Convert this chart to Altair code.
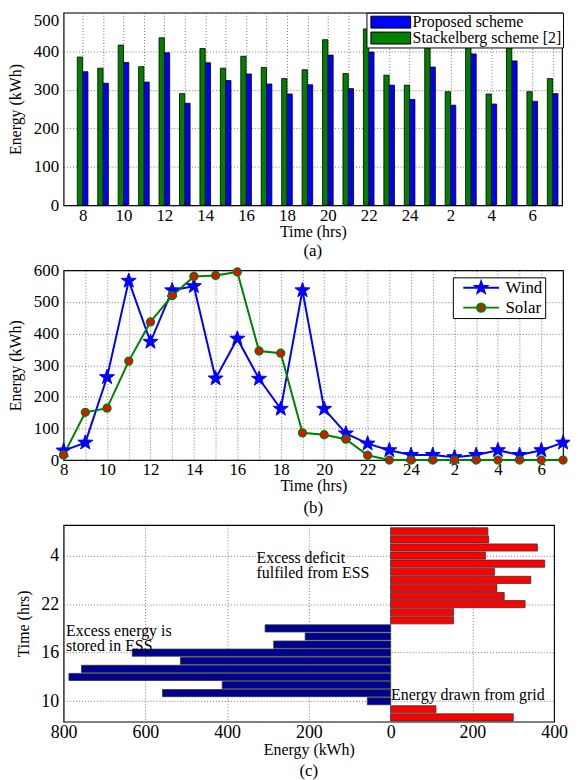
import math
import altair as alt
import pandas as pd

# ---------------- data ----------------
hours = [8, 9, 10, 11, 12, 13, 14, 15, 16, 17, 18, 19, 20, 21, 22, 23, 24, 1, 2, 3, 4, 5, 6, 7]
proposed = [347, 317, 371, 320, 396, 265, 370, 324, 341, 315, 289, 313,
            390, 303, 398, 312, 275, 359, 260, 393, 263, 375, 270, 290]
stackelberg = [385, 356, 416, 360, 435, 290, 407, 356, 387, 358, 329, 352,
               430, 342, 458, 338, 312, 408, 295, 432, 289, 409, 295, 329]
wind = [30, 55, 262, 567, 374, 537, 550, 258, 384, 257, 162, 537,
        162, 84, 52, 31, 16, 16, 9, 16, 31, 16, 31, 55]
solar = [16, 151, 164, 313, 437, 520, 581, 584, 595, 345, 338, 86,
         80, 66, 15, 0, 0, 0, 0, 0, 0, 0, 0, 0]
ess_energy = [300, 111, -57, -558, -412, -787, -756, -514, -632, -286, -209, -307,
              154, 154, 329, 278, 260, 343, 254, 377, 232, 359, 240, 238]

series_a_keys = ["proposed", "stackelberg"]
series_a_labels = ["Proposed scheme", "Stackelberg scheme [2]"]
series_b = ["Wind", "Solar"]

ann_text = ["Excess deficit\nfulfiled from ESS", "Excess energy is\nstored in ESS", "Energy drawn from grid"]
ann_x = [-328, -794, 1]
ann_y = [20.7, 11.7, 3.7]

y_ticks_a = [0, 100, 200, 300, 400, 500]
y_ticks_b = [0, 100, 200, 300, 400, 500, 600]
x_ticks_c = [-800, -600, -400, -200, 0, 200, 400]
y_ticks_c = [2, 5, 8, 11, 14, 17, 20, 23]

FONT = "Liberation Serif"
idx = list(range(len(hours)))
HOUR = "(((datum.value + 7) % 24) + 1)"
NBSP6 = "\u00a0" * 6


def star_path(r_in=0.4):
    pts = []
    for k in range(10):
        ang = math.radians(-90 + 36 * k)
        r = 1.0 if k % 2 == 0 else r_in
        pts.append(f"{r * math.cos(ang):.3f},{r * math.sin(ang):.3f}")
    return "M" + "L".join(pts) + "Z"


STAR = star_path()
CIRC = "M-0.7,0A0.7,0.7,0,1,0,0.7,0A0.7,0.7,0,1,0,-0.7,0Z"
WIND_LEG = "M-3,0H3" + STAR
SOLAR_LEG = "M-3,0H3" + CIRC
RECT_LEG = "M-3.333,-1H3.333V1H-3.333Z"


def build(top_mode="cond", neg_pad=True):
    # ---------------- panel (a) ----------------
    df_a = pd.DataFrame({"idx": idx, "proposed": proposed, "stackelberg": stackelberg})
    BW = 0.26
    leg_a = alt.Legend(
        title=None, orient="none", legendX=305, legendY=0, direction="vertical",
        symbolType=RECT_LEG, symbolSize=144,
        symbolStrokeColor="black", symbolStrokeWidth=1, symbolOffset=15,
        labelFont=FONT, labelFontSize=16, labelColor="black", labelLimit=400,
        fillColor="white", strokeColor="black", padding=1.5,
        rowPadding=-1, labelOffset=14,
    )
    ya_axis_kw = dict(values=y_ticks_a, title="Energy (kWh)", labelFontSize=17,
                      titleFontSize=16, labelPadding=5, titlePadding=9.5, labelOverlap=False)
    if top_mode == "cond":
        ya_axis_kw["labelFlush"] = False
        ya_axis_kw["labelBaseline"] = {"condition": {"test": "datum.value == 500", "value": "top"},
                                       "value": "middle"}
    else:
        ya_axis_kw["labelFlush"] = True
    a = alt.Chart(df_a).transform_fold(
        series_a_keys, as_=["key", "energy"]
    ).transform_calculate(
        series=f"datum.key == 'proposed' ? '{series_a_labels[0]}' : '{series_a_labels[1]}'",
        x0=f"datum.key == 'proposed' ? datum.idx : datum.idx - {BW}",
        x1=f"datum.key == 'proposed' ? datum.idx + {BW} : datum.idx",
        zero="0",
    ).mark_bar(stroke="black", strokeWidth=0.8).encode(
        x=alt.X("x0:Q", scale=alt.Scale(domain=[-0.93, 23.46], nice=False, zero=False),
                axis=alt.Axis(values=idx, labelExpr=f"datum.value % 2 == 0 ? '' + {HOUR} : ''",
                              title="Time (hrs)", labelFontSize=17, titleFontSize=16,
                              labelPadding=2, titlePadding=0, labelOverlap=False, labelFlush=False)),
        x2="x1:Q",
        y=alt.Y("energy:Q", scale=alt.Scale(domain=[0, 500], nice=False), axis=alt.Axis(**ya_axis_kw)),
        y2="zero:Q",
        color=alt.Color("series:N", scale=alt.Scale(domain=series_a_labels, range=["#0000ff", "#007f00"]),
                        legend=leg_a),
    ).properties(
        width=502, height=194,
        title=alt.TitleParams("(a)", orient="bottom", anchor="middle", font=FONT, fontSize=17,
                              fontWeight="normal", offset=4, color="black"),
    )

    # ---------------- panel (b) ----------------
    df_b = pd.DataFrame({"idx": idx, "Wind": wind, "Solar": solar})
    base_b = alt.Chart(df_b).transform_fold(series_b, as_=["series", "energy"])
    xb = alt.X("idx:Q", scale=alt.Scale(domain=[0, 23], nice=False, zero=False),
               axis=alt.Axis(values=idx, labelExpr=f"datum.value % 2 == 0 ? '' + {HOUR} : ''",
                             title="Time (hrs)", labelFontSize=17, titleFontSize=16,
                             labelPadding=2, titlePadding=0, labelOverlap=False, labelFlush=False))
    yb = alt.Y("energy:Q", scale=alt.Scale(domain=[0, 600], nice=False),
               axis=alt.Axis(values=y_ticks_b, title="Energy (kWh)", labelFontSize=17,
                             titleFontSize=16, labelPadding=5, titlePadding=10,
                             labelOverlap=False, labelFlush=False))
    line_w = base_b.transform_filter("datum.series == 'Wind'").mark_line(
        color="#0000ff", strokeWidth=2).encode(x=xb, y=yb)
    line_s = base_b.transform_filter("datum.series == 'Solar'").mark_line(
        color="#008000", strokeWidth=2).encode(x=xb, y=yb)
    pts_w = base_b.transform_filter("datum.series == 'Wind'").mark_point(
        shape=STAR, size=250, filled=True, fill="#0000ff", stroke="#0000ff",
        strokeWidth=1, opacity=1).encode(x=xb, y=yb)
    pts_s = base_b.transform_filter("datum.series == 'Solar'").mark_point(
        shape="circle", size=60, filled=True, fill="#ff0000", stroke="#008000",
        strokeWidth=1.6, opacity=1).encode(x=xb, y=yb)
    leg_b = alt.Legend(
        title=None, orient="none", legendX=392, legendY=7, direction="vertical",
        symbolSize=144, symbolStrokeWidth=2, symbolOffset=18,
        labelFont=FONT, labelFontSize=17, labelColor="black", labelOffset=16,
        labelExpr=f"datum.label + '{NBSP6}'",
        fillColor="white", strokeColor="black", padding=2, rowPadding=1,
    )
    legend_layer = base_b.transform_filter("false").mark_point(
        filled=True, strokeWidth=2, opacity=1).encode(
        x=xb, y=yb,
        fill=alt.Fill("series:N", scale=alt.Scale(domain=series_b, range=["#0000ff", "#ff0000"]), legend=leg_b),
        stroke=alt.Stroke("series:N", scale=alt.Scale(domain=series_b, range=["#0000ff", "#008000"]), legend=leg_b),
        shape=alt.Shape("series:N", scale=alt.Scale(domain=series_b, range=[WIND_LEG, SOLAR_LEG]), legend=leg_b),
    )
    b = alt.layer(line_w, line_s, pts_w, pts_s, legend_layer).properties(
        width=503, height=191,
        title=alt.TitleParams("(b)", orient="bottom", anchor="middle", font=FONT, fontSize=17,
                              fontWeight="normal", offset=6, color="black"),
    )

    # ---------------- panel (c) ----------------
    df_c = pd.DataFrame({"idx": idx, "ess": ess_energy})
    xc = alt.X("ess:Q", scale=alt.Scale(domain=[-800, 400], nice=False, zero=False),
               axis=alt.Axis(values=x_ticks_c, labelExpr="'' + abs(datum.value)", title="Energy (kWh)",
                             labelFontSize=18, titleFontSize=16, labelPadding=2,
                             titlePadding=0, labelOverlap=False, labelFlush=False))
    yc_scale = alt.Scale(domain=[-0.53, 23.77], nice=False, zero=False)
    bars_c = alt.Chart(df_c).transform_calculate(
        y0="datum.idx - 0.44", y1="datum.idx + 0.44", zero="0",
        side="datum.ess < 0 ? 'stored' : 'deficit'",
    ).mark_bar(stroke="#333333", strokeWidth=0.8).encode(
        x=xc, x2="zero:Q",
        y=alt.Y("y0:Q", scale=yc_scale,
                axis=alt.Axis(values=y_ticks_c, labelExpr=f"datum.value % 6 == 2 ? '' + {HOUR} : ''",
                              title="Time (hrs)", labelFontSize=18, titleFontSize=16,
                              labelPadding=5, titlePadding=9.5, labelOverlap=False, labelFlush=False)),
        y2="y1:Q",
        color=alt.Color("side:N", scale=alt.Scale(domain=["stored", "deficit"], range=["#00008f", "#ff0000"]),
                        legend=None),
    )
    df_ann = pd.DataFrame({"text": ann_text, "x": ann_x, "y": ann_y})
    text_c = alt.Chart(df_ann).mark_text(
        align="left", baseline="top", font=FONT, fontSize=16, lineBreak="\n", lineHeight=15, color="black"
    ).encode(x=alt.X("x:Q"), y=alt.Y("y:Q"), text="text:N")
    c = alt.layer(bars_c, text_c).properties(
        width=494, height=198,
        title=alt.TitleParams("(c)", orient="bottom", anchor="middle", font=FONT, fontSize=17,
                              fontWeight="normal", offset=6, color="black"),
    )

    pad = ({"left": -2, "top": 0, "right": -4, "bottom": 0} if neg_pad
           else {"left": 0, "top": 0, "right": 0, "bottom": 0})
    chart = alt.vconcat(a, b, c, spacing=65.5, bounds="flush").resolve_scale(
        color="independent", fill="independent", stroke="independent", shape="independent"
    ).properties(
        padding=pad
    ).configure(font=FONT).configure_view(
        stroke="black", strokeWidth=1.2
    ).configure_axis(
        labelFont=FONT, titleFont=FONT, labelColor="black", titleColor="black",
        titleFontWeight="normal", domain=False, ticks=False,
        gridColor="#444444", gridDash=[1, 2], gridOpacity=0.9, gridWidth=0.8,
    )
    return chart


chart = None
for opts in [("cond", True), ("flush", True), ("cond", False), ("flush", False)]:
    try:
        cand = build(*opts)
        cand.to_dict()
        chart = cand
        break
    except Exception:
        continue

chart.save("out.html", embed_options={"renderer": "svg", "actions": False})
